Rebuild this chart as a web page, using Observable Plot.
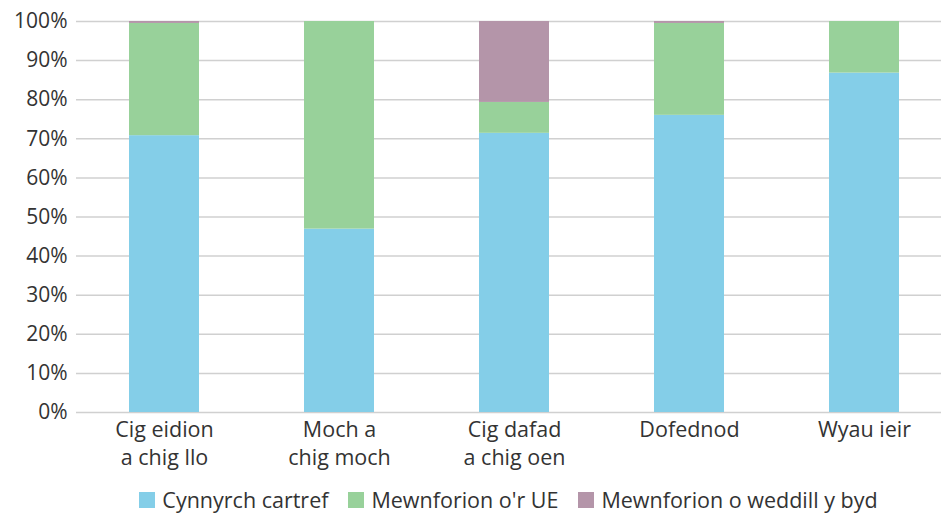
<!DOCTYPE html>
<html>
<head>
<meta charset="utf-8">
<script src="https://cdn.jsdelivr.net/npm/d3@7"></script>
<script src="https://cdn.jsdelivr.net/npm/@observablehq/plot@0.6"></script>
<style>
  html, body { margin: 0; padding: 0; background: #fff; }
  body { width: 941px; height: 514px; overflow: hidden; font-family: "Open Sans", Lato, sans-serif; color: #333; }
  #legend { display: flex; justify-content: center; align-items: center; padding-left: 76px; padding-top: 6px; height: 28px; line-height: 28px; font-size: 21.5px; }
  #legend .item { display: flex; align-items: center; margin: 0 10px; white-space: nowrap; }
  #legend .sw { width: 16px; height: 16px; margin-right: 7px; }
</style>
</head>
<body>
<div id="chart"></div>
<div id="legend"></div>
<script>
const categories = ["Cig eidion\na chig llo", "Moch a\nchig moch", "Cig dafad\na chig oen", "Dofednod", "Wyau ieir"];
const seriesNames = ["Cynnyrch cartref", "Mewnforion o'r UE", "Mewnforion o weddill y byd"];
const seriesColors = ["#84cee8", "#98d19a", "#b495a9"];
const home = [70.8, 46.9, 71.4, 76.0, 86.8];
const eu = [28.7, 53.1, 7.9, 23.5, 13.2];
const restOfWorld = [0.5, 0, 20.7, 0.5, 0];
const yTicks = [0, 0.1, 0.2, 0.3, 0.4, 0.5, 0.6, 0.7, 0.8, 0.9, 1];

const values = [home, eu, restOfWorld];
const data = [];
seriesNames.forEach((s, si) => {
  categories.forEach((c, ci) => {
    data.push({category: c, series: s, value: values[si][ci] / 100});
  });
});

const chart = Plot.plot({
  width: 941,
  height: 480,
  marginTop: 21,
  marginBottom: 68,
  marginLeft: 76,
  marginRight: 0,
  style: {fontFamily: '"Open Sans", Lato, sans-serif', fontSize: "22px", color: "#333", background: "#fff", overflow: "visible"},
  x: {domain: categories, range: [76, 952], paddingInner: 0.6, paddingOuter: 0.3, label: null},
  y: {domain: [0, 1], label: null},
  color: {domain: seriesNames, range: seriesColors},
  marks: [
    Plot.ruleY(yTicks, {stroke: "#d0d0d0", strokeWidth: 1.5}),
    Plot.barY(data, {x: "category", y: "value", fill: "series"}),
    Plot.axisY({ticks: yTicks, tickFormat: d3.format(".0%"), tickSize: 0, tickPadding: 9, fontSize: 21, label: null, fill: "#333"}),
    Plot.axisX({tickSize: 0, tickPadding: 5, fontSize: 21.5, lineHeight: 1.3, label: null, fill: "#333"})
  ]
});
document.getElementById("chart").appendChild(chart);

const legend = document.getElementById("legend");
seriesNames.forEach((s, i) => {
  const item = document.createElement("div");
  item.className = "item";
  const sw = document.createElement("div");
  sw.className = "sw";
  sw.style.background = seriesColors[i];
  const t = document.createElement("span");
  t.textContent = s;
  item.appendChild(sw);
  item.appendChild(t);
  legend.appendChild(item);
});
</script>
</body>
</html>
